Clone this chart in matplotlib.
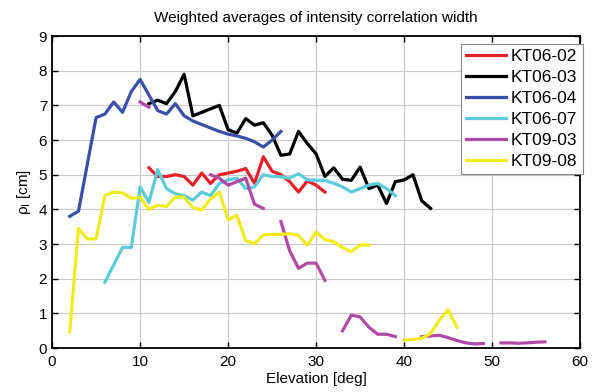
import numpy as np
import matplotlib
matplotlib.use('Agg')
import matplotlib.pyplot as plt

nan = np.nan

# KT06-02
x_0602 = list(range(11, 32))
y_0602 = [5.2, 4.95, 4.95, 5.0, 4.95, 4.7, 5.05, 4.75, 5.0, 5.05, 5.1, 5.18, 4.75, 5.52,
          5.1, 5.0, 4.8, 4.5, 4.82, 4.7, 4.5]

# KT06-03
x_0603 = list(range(11, 44))
y_0603 = [7.05, 7.15, 7.05, 7.4, 7.9, 6.7, 6.8, 6.9, 7.0, 6.3, 6.2, 6.62, 6.43, 6.5, 6.14,
          5.56, 5.6, 6.25, 5.9, 5.6, 4.95, 5.2, 4.87, 4.84, 5.22, 4.6, 4.7, 4.17, 4.8, 4.85,
          5.0, 4.25, 4.03]

# KT06-04
x_0604 = list(range(2, 27))
y_0604 = [3.8, 3.95, 5.3, 6.65, 6.75, 7.1, 6.8, 7.4, 7.75, 7.3, 6.85, 6.75, 7.05, 6.7,
          6.55, 6.45, 6.35, 6.25, 6.17, 6.12, 6.05, 5.95, 5.8, 6.0, 6.25]

# KT06-07
x_0607 = list(range(6, 40))
y_0607 = [1.9, 2.4, 2.9, 2.9, 4.65, 4.2, 5.15, 4.6, 4.45, 4.4, 4.27, 4.5, 4.4, 4.75, 4.85,
          4.9, 4.6, 4.65, 5.0, 4.95, 4.94, 4.9, 5.03, 4.85, 4.84, 4.84, 4.75, 4.65, 4.5,
          4.6, 4.7, 4.75, 4.6, 4.4]

# KT09-03 (gaps as nan)
x_0903 = list(range(10, 57))
y_0903 = [7.1, 6.95, nan, nan, nan, nan, nan, nan, 5.0, 4.9, 4.7, 4.8, 4.9, 4.15, 4.03,
          nan, 3.65, 2.8, 2.3, 2.45, 2.45, 1.95, nan, 0.5, 0.95, 0.9, 0.6, 0.4, 0.4, 0.33,
          nan, nan, 0.33, 0.35, 0.37, 0.3, 0.22, 0.15, 0.12, 0.13, nan, 0.15, 0.15, 0.14,
          0.15, 0.17, 0.18]

# KT09-08
x_0908 = list(range(2, 47))
y_0908 = [0.47, 3.45, 3.15, 3.15, 4.4, 4.5, 4.48, 4.32, 4.35, 4.0, 4.12, 4.08, 4.36, 4.35,
          4.05, 3.98, 4.3, 4.5, 3.7, 3.83, 3.1, 3.01, 3.26, 3.28, 3.28, 3.3, 3.25, 2.97,
          3.35, 3.13, 3.07, 2.9, 2.78, 2.97, 2.97, nan, nan, nan, 0.23, 0.25, 0.28, 0.42,
          0.8, 1.1, 0.6]

labels = ['KT06-02', 'KT06-03', 'KT06-04', 'KT06-07', 'KT09-03', 'KT09-08']
colors = ['#e8202a', '#000000', '#3a4fa8', '#5ccbdc', '#b04aa6', '#f0eb1e']

plt.rcParams['font.family'] = ['Liberation Sans', 'DejaVu Sans']
plt.rcParams['mathtext.fontset'] = 'custom'
plt.rcParams['mathtext.rm'] = 'Liberation Sans'
plt.rcParams['mathtext.it'] = 'Liberation Sans:italic'

fig = plt.figure(figsize=(5.92, 3.92), dpi=100)
ax = fig.add_axes([0.088, 0.112, 0.892, 0.796])

series = [(x_0602, y_0602), (x_0603, y_0603), (x_0604, y_0604),
          (x_0607, y_0607), (x_0903, y_0903), (x_0908, y_0908)]
for (xs, ys), lab, c in zip(series, labels, colors):
    ax.plot(xs, ys, color=c, lw=2.3, label=lab)

ax.set_xlim(0, 60)
ax.set_ylim(0, 9)
ax.set_xticks(range(0, 61, 10))
ax.set_yticks(range(0, 10))
ax.grid(True, color='#c8c8c8', lw=0.8)
ax.tick_params(direction='in', top=True, right=True, labelsize=11, length=4, width=1)
ax.tick_params(axis='x', pad=5)
for s in ax.spines.values():
    s.set_linewidth(1.3)

ax.set_title('Weighted averages of intensity correlation width', fontsize=11, pad=10)
ax.set_xlabel('Elevation [deg]', fontsize=11, labelpad=2)
ax.set_ylabel('ρ$_\\mathrm{I}$ [cm]', fontsize=11, labelpad=4)

leg = ax.legend(loc='upper right', bbox_to_anchor=(1.005, 0.975), fontsize=12.5,
                fancybox=False, framealpha=1, edgecolor='#888888', handlelength=2.3,
                handletextpad=0.3, labelspacing=0.33, borderpad=0.3, borderaxespad=0)
leg.get_frame().set_linewidth(0.8)

fig.savefig('out.png', dpi=100)
